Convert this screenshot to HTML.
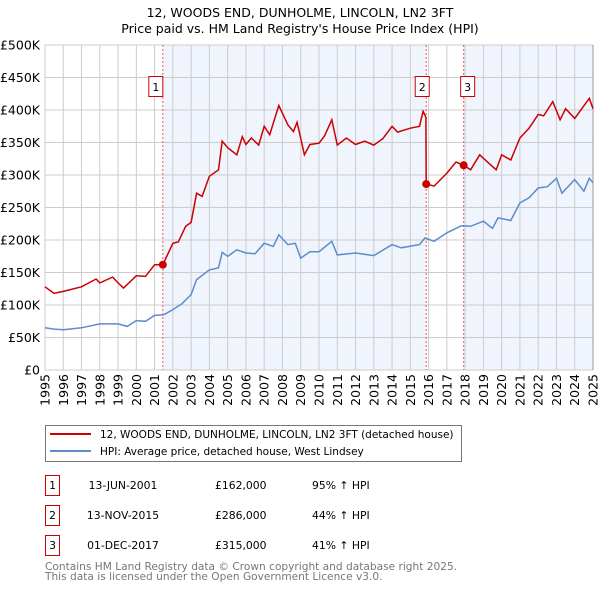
<!DOCTYPE html>
<html><head><meta charset="utf-8"><style>
body{margin:0;background:#fff;width:600px;height:590px;overflow:hidden;font-family:"DejaVu Sans","Liberation Sans",sans-serif}
svg text{font-family:"DejaVu Sans","Liberation Sans",sans-serif}
</style></head><body>
<svg id="c" width="600" height="590" xmlns="http://www.w3.org/2000/svg">
<text x="300" y="17" text-anchor="middle" font-size="12.5">12, WOODS END, DUNHOLME, LINCOLN, LN2 3FT</text>
<text x="300" y="33" text-anchor="middle" font-size="12.5">Price paid vs. HM Land Registry's House Price Index (HPI)</text>
<g id="plot"></g>
<g>
<rect x="45.5" y="425.5" width="416" height="36" fill="#fff" stroke="#777"/>
<line x1="50" y1="434" x2="91" y2="434" stroke="#cc0000" stroke-width="2"/>
<text x="100" y="438" font-size="10.5">12, WOODS END, DUNHOLME, LINCOLN, LN2 3FT (detached house)</text>
<line x1="50" y1="451" x2="91" y2="451" stroke="#5b8ccc" stroke-width="2"/>
<text x="100" y="455" font-size="10.5">HPI: Average price, detached house, West Lindsey</text>
</g>
<g id="table" font-size="10.8"></g>
<text x="45" y="570" font-size="10.6" fill="#777">Contains HM Land Registry data © Crown copyright and database right 2025.</text>
<text x="45" y="580" font-size="10.6" fill="#777">This data is licensed under the Open Government Licence v3.0.</text>
</svg>
<script>
const yTicks=[0,50,100,150,200,250,300,350,400,450,500];
const yTickLabels=["£0","£50K","£100K","£150K","£200K","£250K","£300K","£350K","£400K","£450K","£500K"];
const xYears=[1995,1996,1997,1998,1999,2000,2001,2002,2003,2004,2005,2006,2007,2008,2009,2010,2011,2012,2013,2014,2015,2016,2017,2018,2019,2020,2021,2022,2023,2024,2025];
const hpiT=[1995,1995.5,1996,1997,1998,1999,1999.5,2000,2000.5,2001,2001.5,2002,2002.5,2003,2003.3,2004,2004.5,2004.7,2005,2005.5,2006,2006.5,2007,2007.5,2007.8,2008.3,2008.7,2009,2009.5,2010,2010.7,2011,2012,2013,2014,2014.5,2015.5,2015.8,2016.3,2017,2017.8,2018.3,2019,2019.5,2019.8,2020.5,2021,2021.5,2022,2022.5,2023,2023.3,2024,2024.5,2024.8,2025];
const hpiV=[65,63,62,65,71,71,67,76,75,84,85,93,102,116,139,154,157,181,175,185,180,179,195,190,208,193,195,172,182,182,198,177,180,176,193,188,193,203,198,211,222,221,229,218,234,230,257,265,280,282,295,272,293,275,295,288];
const priceT=[1995,1995.5,1996,1997,1997.8,1998,1998.7,1999,1999.3,2000,2000.5,2001,2001.45,2002,2002.3,2002.7,2003,2003.3,2003.6,2004,2004.5,2004.7,2005,2005.5,2005.8,2006,2006.3,2006.7,2007,2007.3,2007.8,2008.3,2008.6,2008.8,2009.2,2009.5,2010,2010.3,2010.7,2011,2011.5,2012,2012.5,2013,2013.5,2014,2014.3,2015,2015.5,2015.7,2015.85,2015.87,2016.3,2017,2017.5,2017.92,2018.3,2018.8,2019.3,2019.7,2020,2020.5,2021,2021.5,2022,2022.3,2022.8,2023.2,2023.5,2024,2024.8,2025];
const priceV=[128,118,121,128,140,134,143,134,126,145,144,162,162,195,197,221,227,272,267,298,308,352,342,331,359,347,357,346,375,362,407,377,367,381,331,347,349,360,385,346,357,347,352,346,356,375,366,372,375,398,389,286,283,303,320,315,308,331,318,308,331,323,357,372,393,391,413,385,402,387,418,402];
const saleLabels=["1","2","3"];
const saleT=[2001.45,2015.87,2017.92];
const saleV=[162,286,315];
const saleDates=["13-JUN-2001","13-NOV-2015","01-DEC-2017"];
const salePrices=["£162,000","£286,000","£315,000"];
const salePct=["95% ↑ HPI","44% ↑ HPI","41% ↑ HPI"];

const X0=45,X1=593,Y0=370,Y1=45;
const xs=t=>X0+(t-1995)*(X1-X0)/30;
const ys=v=>Y0-(v/500)*(Y0-Y1);
const NS="http://www.w3.org/2000/svg";
function mk(p,tag,at){const e=document.createElementNS(NS,tag);for(const k in at)e.setAttribute(k,at[k]);p.appendChild(e);return e;}
const g=document.getElementById('plot');
const bg=mk(g,'rect',{x:X0,y:Y1,width:X1-X0,height:Y0-Y1,fill:'#fff'});


const sh1=mk(g,'rect',{x:xs(saleT[0]),y:Y1,width:xs(saleT[1])-xs(saleT[0]),height:Y0-Y1,fill:'#f0f4fd'});


const sh2=mk(g,'rect',{x:xs(saleT[2]),y:Y1,width:X1-xs(saleT[2]),height:Y0-Y1,fill:'#f0f4fd'});


yTicks.forEach((v,i)=>{
 const l=mk(g,'line',{x1:X0,x2:X1,y1:ys(v),y2:ys(v),stroke:'#ccc','stroke-width':1});
 
 
 const t=mk(g,'text',{x:X0-5,y:ys(v)+4.5,'text-anchor':'end','font-size':12.5});
 
 
 t.textContent=yTickLabels[i];
});
xYears.forEach(yr=>{
 const l=mk(g,'line',{x1:xs(yr),x2:xs(yr),y1:Y1,y2:Y0,stroke:'#ccc','stroke-width':1});
 
 
 const x=xs(yr)+4.5,y=374;
 const t=mk(g,'text',{x:x,y:y,'text-anchor':'end','font-size':12.5,transform:`rotate(-90 ${x} ${y})`});
 
 
 t.textContent=yr;
});
const ax=mk(g,'line',{x1:X1,x2:X1,y1:Y1,y2:Y0,stroke:'#999'});


saleT.forEach((t,i)=>{
 const l=mk(g,'line',{x1:xs(t),x2:xs(t),y1:Y1,y2:Y0,stroke:'#ee5555','stroke-width':1,'stroke-dasharray':'2,2'});
 
 
});
function path(T,V){return T.map((t,i)=>(i?'L':'M')+xs(t).toFixed(1)+','+ys(V[i]).toFixed(1)).join('');}
const hp=mk(g,'path',{d:path(hpiT,hpiV),fill:'none',stroke:'#5b8ccc','stroke-width':1.5});


const pp=mk(g,'path',{d:path(priceT,priceV),fill:'none',stroke:'#cc0000','stroke-width':1.5});


saleT.forEach((t,i)=>{
 const c=mk(g,'circle',{cx:xs(t),cy:ys(saleV[i]),r:4,fill:'#cc0000'});
 
 
 const bx=xs(t)-(i==0?7:i==1?4:-4)-7;
 const b=mk(g,'rect',{x:bx,y:76.5,width:14,height:20,fill:'#fff',stroke:'#cc0000'});
 
 
 const tx=mk(g,'text',{x:bx+7,y:91,'text-anchor':'middle','font-size':11});
 
 
 tx.textContent=saleLabels[i];
});
const tb=document.getElementById('table');
saleLabels.forEach((s,i)=>{
 const y=475+i*30;
 const r=mk(tb,'rect',{x:45.5,y:y+0.5,width:14,height:20,fill:'#fff',stroke:'#cc0000'});
 
 
 const a=mk(tb,'text',{x:52.5,y:y+14,'text-anchor':'middle'});
 
 
 a.textContent=s;
 const d=mk(tb,'text',{x:123,y:y+14,'text-anchor':'middle'});
 
 
 d.textContent=saleDates[i];
 const p=mk(tb,'text',{x:215,y:y+14});
 
 
 p.textContent=salePrices[i];
 const q=mk(tb,'text',{x:312,y:y+14});
 
 
 q.textContent=salePct[i];
});
</script>
</body></html>
